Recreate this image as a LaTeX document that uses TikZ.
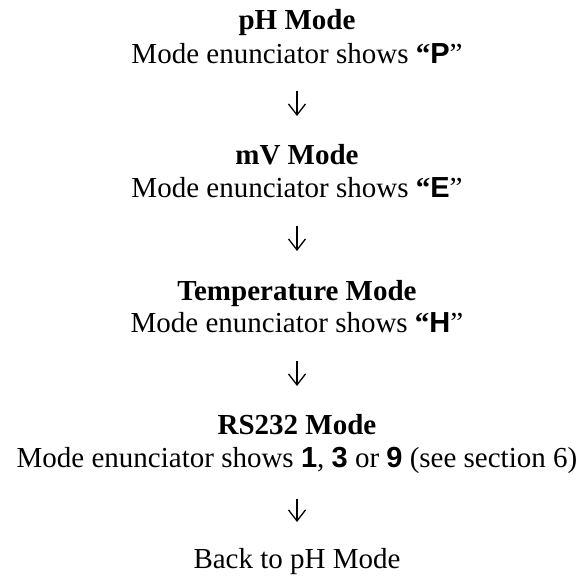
\documentclass[tikz,border=0pt]{standalone}
\usepackage{fontspec}
\setmainfont{Liberation Serif}
\newfontfamily\lsans{Liberation Sans}
\usetikzlibrary{arrows.meta,calc}
\newcommand{\enc}[1]{{\lsans\bfseries #1}}
\begin{document}
\begin{tikzpicture}[x=0.5pt,y=-0.5pt,
  txt/.style={inner sep=0pt,anchor=base,font=\fontsize{14.5}{17}\selectfont},
  head/.style={txt,font=\fontsize{14.5}{17}\selectfont\bfseries},
  flow/.style={line width=0.65pt,-{Straight Barb[length=5.5pt,width=8.5pt,line width=0.65pt]}}]
\useasboundingbox (0,0) rectangle (586,578);
\node[head] (h1) at (297,30) {pH Mode};
\node[txt]  (s1) at (297,63) {Mode enunciator shows \textbf{“}\enc{P}”};
\node[head] (h2) at (297,165) {mV Mode};
\node[txt]  (s2) at (297,198) {Mode enunciator shows \textbf{“}\enc{E}”};
\node[head] (h3) at (297,300) {Temperature Mode};
\node[txt]  (s3) at (297,333) {Mode enunciator shows \textbf{“}\enc{H}”};
\node[head] (h4) at (297,435) {RS232 Mode};
\node[txt]  (s4) at (297,468) {Mode enunciator shows \enc{1}, \enc{3} or \enc{9} (see section 6)};
\node[txt]  (back) at (297,569) {Back to pH Mode};
\draw[flow] ($(s1.base)+(0,28)$) -- ($(s1.base)+(0,53)$);
\draw[flow] ($(s2.base)+(0,28)$) -- ($(s2.base)+(0,53)$);
\draw[flow] ($(s3.base)+(0,28)$) -- ($(s3.base)+(0,53)$);
\draw[flow] ($(s4.base)+(0,31)$) -- ($(s4.base)+(0,54)$);
\end{tikzpicture}
\end{document}
